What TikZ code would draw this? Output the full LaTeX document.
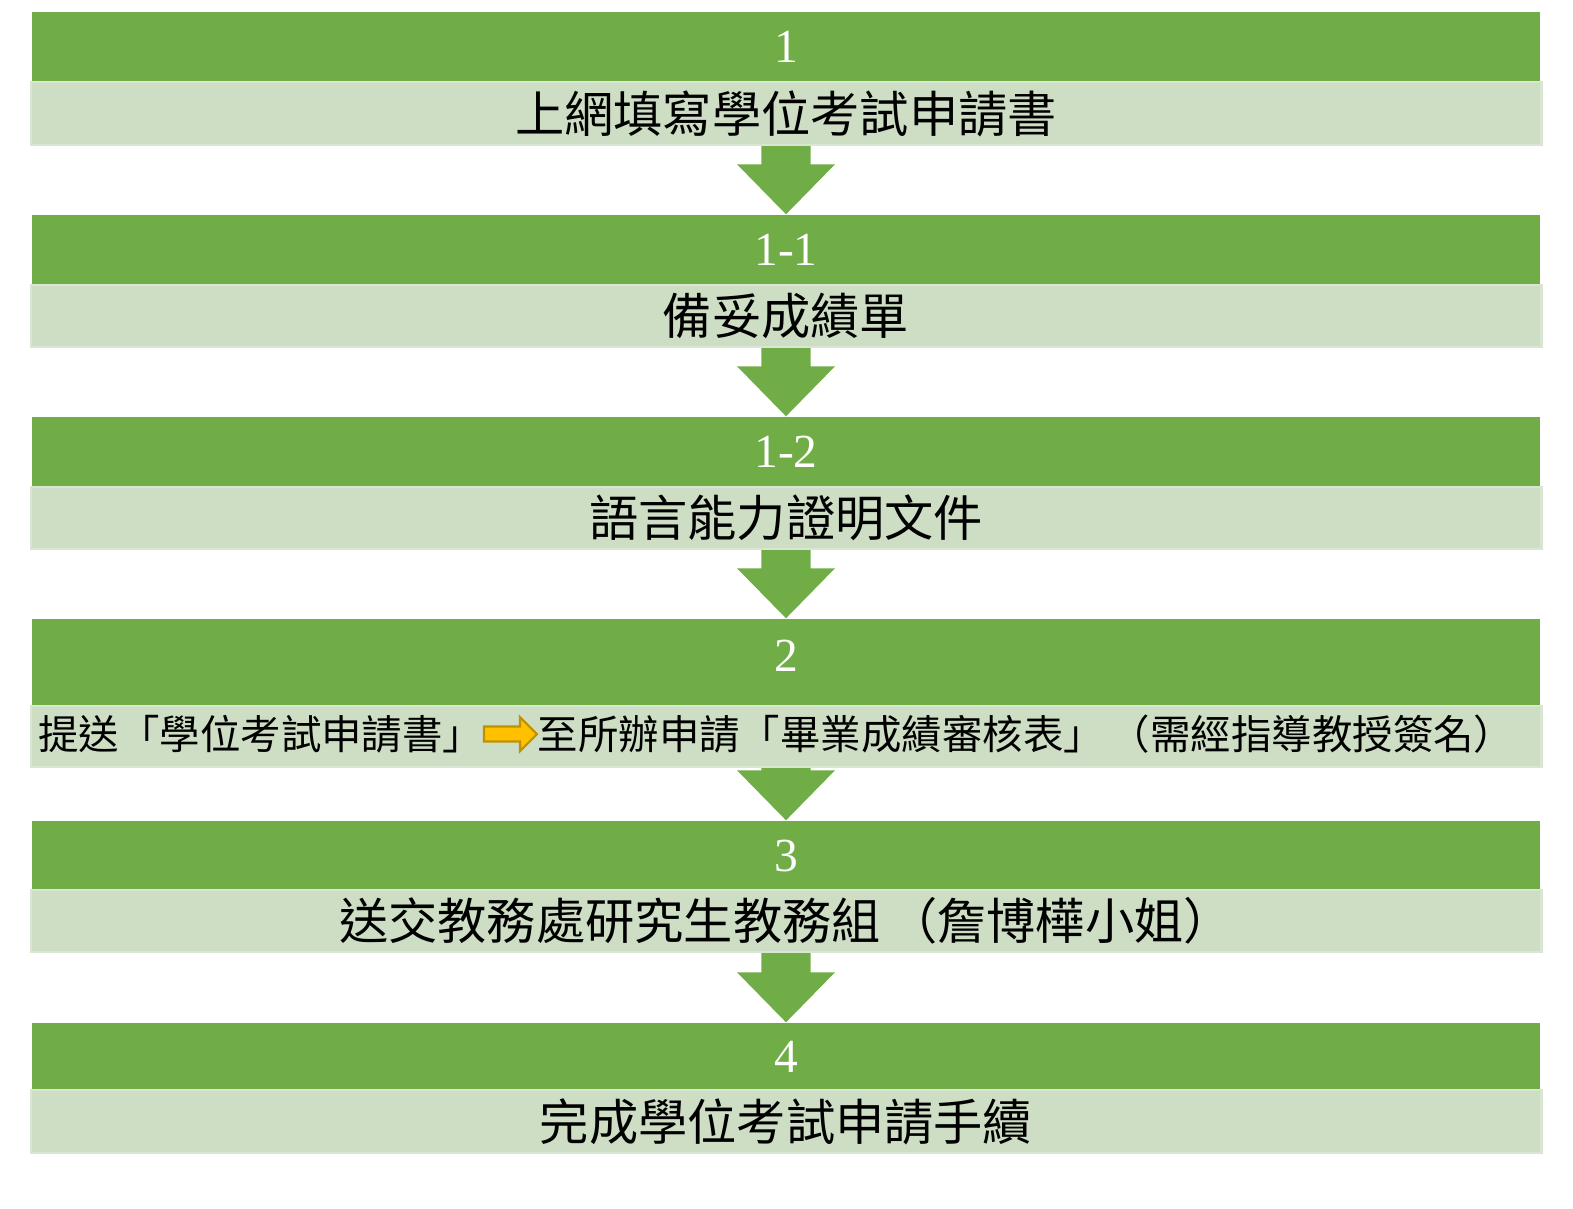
\documentclass[tikz,border=0pt]{standalone}
\usepackage{fontspec}
\setmainfont{Liberation Serif}
\newfontfamily\cjk{Noto Sans CJK TC}
\usetikzlibrary{positioning,calc}

\definecolor{stepgreen}{HTML}{70AD47}
\definecolor{steplight}{HTML}{CDDEC4}
\definecolor{lightedge}{HTML}{D9E6D2}
\definecolor{arrowgold}{HTML}{FFC000}
\definecolor{arrowedge}{HTML}{BF9000}

% block arrow from the bottom of one bar down to the top of the next
\newcommand{\flowarrow}[2]{%
  \fill[stepgreen] ($(#1.south)+(-0.245cm,0)$) -- ($(#2.north)+(-0.245cm,0.5cm)$)
    -- ($(#2.north)+(-0.49cm,0.5cm)$) -- (#2.north) -- ($(#2.north)+(0.49cm,0.5cm)$)
    -- ($(#2.north)+(0.245cm,0.5cm)$) -- ($(#1.south)+(0.245cm,0)$) -- cycle;}

\begin{document}
\begin{tikzpicture}[x=0.01cm,y=-0.01cm,
  numbar/.style={rectangle,fill=stepgreen,minimum width=15.08cm,minimum height=#1,inner sep=0pt,text=white,font=\fontsize{13.5pt}{16pt}\selectfont},
  textbar/.style={rectangle,fill=steplight,draw=lightedge,line width=0.6pt,minimum width=15.1cm,minimum height=#1,inner sep=0pt,font=\cjk\fontsize{14pt}{17pt}\selectfont},
  smalltext/.style={inner sep=0pt,font=\cjk\fontsize{11.5pt}{14pt}\selectfont},
  goldarrow/.style={fill=arrowgold,draw=arrowedge,line width=0.6pt},
]
\useasboundingbox (0,0) rectangle (1573,1208);

% === STEP 1 ===
\node[numbar=0.70cm] (num1) at (786,47) {1};
\node[textbar=0.63cm] (txt1) at (786,113.5) {上網填寫學位考試申請書};

% === STEP 1-1 ===
\node[numbar=0.70cm] (num11) at (786,250) {1-1};
\node[textbar=0.62cm] (txt11) at (786,316) {備妥成績單};
\flowarrow{txt1}{num11}

% === STEP 1-2 ===
\node[numbar=0.70cm] (num12) at (786,452) {1-2};
\node[textbar=0.62cm] (txt12) at (786,518) {語言能力證明文件};
\flowarrow{txt11}{num12}

% === STEP 2 ===
\node[numbar=0.87cm] (num2) at (786,662.5) {\raisebox{0.13cm}{2}};
\node[textbar=0.61cm] (txt2) at (786,736.5) {};
\node[smalltext,anchor=east] (t2a) at (484,734) {提送「學位考試申請書」};
\node[smalltext,anchor=west] (t2b) at (537,734) {至所辦申請「畢業成績審核表」\kern0.15em（需經指導教授簽名）};
\filldraw[goldarrow] ($(t2a.east)+(0,0.075cm)$) -- ($(t2b.west)+(-0.17cm,0.075cm)$)
  -- ($(t2b.west)+(-0.17cm,0.17cm)$) -- (t2b.west) -- ($(t2b.west)+(-0.17cm,-0.17cm)$)
  -- ($(t2b.west)+(-0.17cm,-0.075cm)$) -- ($(t2a.east)+(0,-0.075cm)$) -- cycle;
\flowarrow{txt12}{num2}

% === STEP 3 ===
\node[numbar=0.69cm] (num3) at (786,855.5) {3};
\node[textbar=0.62cm] (txt3) at (786,921) {送交教務處研究生教務組\kern0.15em（詹博樺小姐）};
\flowarrow{txt2}{num3}

% === STEP 4 ===
\node[numbar=0.67cm] (num4) at (786,1056.5) {4};
\node[textbar=0.63cm] (txt4) at (786,1121.5) {完成學位考試申請手續};
\flowarrow{txt3}{num4}

\end{tikzpicture}
\end{document}
